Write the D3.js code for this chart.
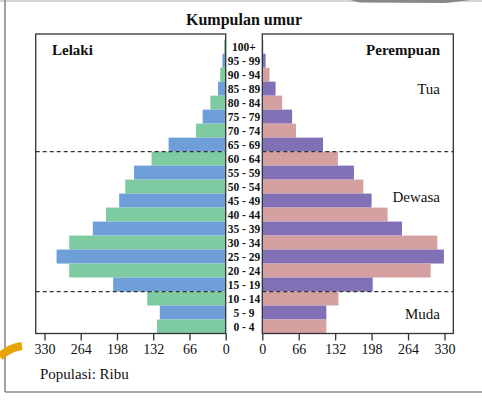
<!DOCTYPE html>
<html>
<head>
<meta charset="utf-8">
<script src="https://cdn.jsdelivr.net/npm/d3@7"></script>
<style>
body{margin:0;background:#fff;}
svg text{font-family:"Liberation Serif","Times New Roman",serif;fill:#111;}
</style>
</head>
<body>
<div id="chart"></div>
<script>
var ages = ["100+","95 - 99","90 - 94","85 - 89","80 - 84","75 - 79","70 - 74","65 - 69","60 - 64","55 - 59","50 - 54","45 - 49","40 - 44","35 - 39","30 - 34","25 - 29","20 - 24","15 - 19","10 - 14","5 - 9","0 - 4"];
var lelaki = [3,6,10,14,28,42,54,104,135,167,183,194,218,242,285,308,285,205,143,120,125];
var perempuan = [2,6,13,24,36,54,61,110,137,166,183,198,227,253,317,329,305,200,138,116,116];
var tick_values = [330,264,198,132,66,0];
var group_names = ["Tua","Dewasa","Muda"];
var group_anchor = ["85 - 89","45 - 49","5 - 9"];
var group_breaks = ["65 - 69","15 - 19"]; // dashed line drawn below these rows

var width = 482, height = 402;
var left_panel = {x0:35.7, x1:225.7};
var right_panel = {x0:262.3, x1:453.3};
var panels = [left_panel, right_panel];
var top_y = 34, bottom_y = 333.5;
var group_dy = [5, 1.5, 6];

var svg = d3.select("#chart").append("svg")
	.attr("width", width)
	.attr("height", height);

// picture frame bits
svg.append("line").attr("x1",0).attr("x2",482).attr("y1",1).attr("y2",1)
	.attr("stroke","#d4d4d4").attr("stroke-width",2);
svg.append("path").attr("d","M350 0 L470 0 Q455 2 445 3 L360 2.5 Z").attr("fill","#888");
svg.append("line").attr("x1",5).attr("x2",5).attr("y1",0).attr("y2",392)
	.attr("stroke","#8a8a8a").attr("stroke-width",1.6);
svg.append("line").attr("x1",5).attr("x2",482).attr("y1",392).attr("y2",392)
	.attr("stroke","#8a8a8a").attr("stroke-width",1.6);

var y = d3.scaleBand().domain(ages).range([39.7, bottom_y]).padding(0);
var xl = d3.scaleLinear().domain([0,346]).range([left_panel.x1, left_panel.x0]);
var xr = d3.scaleLinear().domain([0,346]).range([right_panel.x0, right_panel.x1]);

var male_colors = ["#7ecba1","#6f9fd8"];
var female_colors = ["#d5a0a0","#8170b5"];

svg.append("g").selectAll("rect")
	.data(ages)
	.join("rect")
	.attr("x", function(d,i){ return xl(lelaki[i]) })
	.attr("y", function(d){ return y(d) })
	.attr("width", function(d,i){ return xl(0) - xl(lelaki[i]) })
	.attr("height", y.bandwidth())
	.attr("fill", function(d,i){ return male_colors[i%2] });

svg.append("g").selectAll("rect")
	.data(ages)
	.join("rect")
	.attr("x", xr(0))
	.attr("y", function(d){ return y(d) })
	.attr("width", function(d,i){ return xr(perempuan[i]) - xr(0) })
	.attr("height", y.bandwidth())
	.attr("fill", function(d,i){ return female_colors[i%2] });

// dashed group separators
group_breaks.forEach(function(a){
	var yy = y(a) + y.bandwidth();
	panels.forEach(function(p){
		svg.append("line")
			.attr("x1", p.x0).attr("x2", p.x1)
			.attr("y1", yy).attr("y2", yy)
			.attr("stroke","#333").attr("stroke-width",1.2)
			.attr("stroke-dasharray","4,3");
	});
});

// panel boxes
panels.forEach(function(p){
	svg.append("rect")
		.attr("x", p.x0).attr("y", top_y)
		.attr("width", p.x1 - p.x0).attr("height", bottom_y - top_y)
		.attr("fill","none").attr("stroke","#333").attr("stroke-width",1.3);
});

// axes
function draw_axis(scale){
	var g = svg.append("g")
		.attr("transform","translate(0,"+bottom_y+")")
		.call(d3.axisBottom(scale).tickValues(tick_values).tickSize(7).tickPadding(4));
	g.select(".domain").remove();
	g.selectAll("line").attr("stroke","#333").attr("stroke-width",1.3);
	g.selectAll("text").attr("font-size","14px").attr("fill","#111")
		.style("font-family","'Liberation Serif',serif");
}
draw_axis(xl);
draw_axis(xr);

// age labels
svg.append("g").selectAll("text")
	.data(ages)
	.join("text")
	.attr("x", 244)
	.attr("y", function(d){ return y(d) + y.bandwidth()/2 + 4 })
	.attr("text-anchor","middle")
	.attr("font-size","11.5px")
	.attr("font-weight","bold")
	.text(function(d){ return d });

// group labels
svg.append("g").selectAll("text")
	.data(group_names)
	.join("text")
	.attr("x", 440)
	.attr("y", function(d,i){ return y(group_anchor[i]) + y.bandwidth()/2 + group_dy[i] })
	.attr("text-anchor","end")
	.attr("font-size","15px")
	.text(function(d){ return d });

svg.append("text").attr("x",244).attr("y",25).attr("text-anchor","middle")
	.attr("font-size","16px").attr("font-weight","bold").text("Kumpulan umur");
svg.append("text").attr("x",52).attr("y",55)
	.attr("font-size","15px").attr("font-weight","bold").text("Lelaki");
svg.append("text").attr("x",440).attr("y",55).attr("text-anchor","end")
	.attr("font-size","15px").attr("font-weight","bold").text("Perempuan");
svg.append("text").attr("x",40).attr("y",379)
	.attr("font-size","15px").text("Populasi: Ribu");

// orange swoosh bottom-left
svg.append("path").attr("d","M0 357 Q8 348 22 346")
	.attr("fill","none").attr("stroke","#e6a400").attr("stroke-width",8);
</script>
</body>
</html>
